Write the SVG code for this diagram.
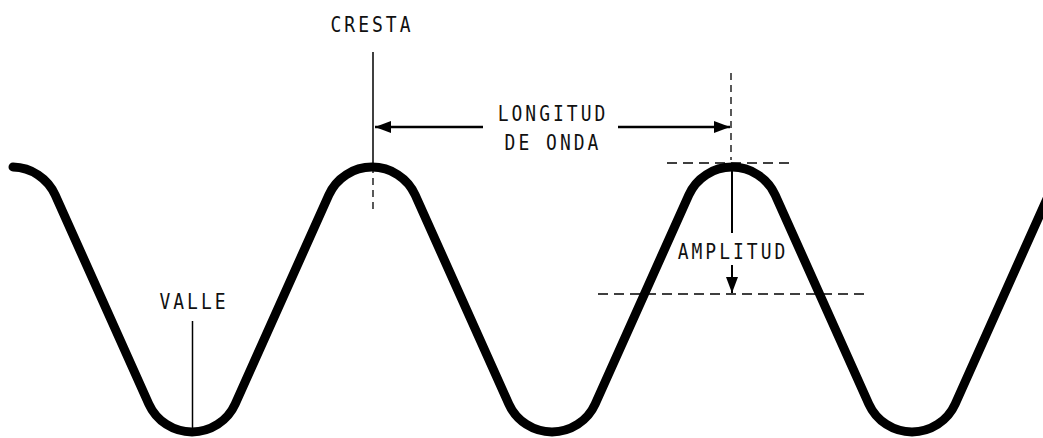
<svg xmlns="http://www.w3.org/2000/svg" width="1043" height="438" viewBox="0 0 1043 438">
<style>
.wave{fill:none;stroke:#000;stroke-width:9;stroke-linecap:round;stroke-linejoin:round}
.thin{fill:none;stroke:#000;stroke-width:1.5}
.dash{fill:none;stroke:#000;stroke-width:1.3;stroke-dasharray:10 6}
.arr{fill:none;stroke:#000;stroke-width:2.5}
.lbl{font-family:"DejaVu Sans Mono","Liberation Mono",monospace;font-size:18px;letter-spacing:3px;fill:#111;text-anchor:middle}
</style>
<defs>
<marker id="ah" viewBox="0 0 16 12" refX="16" refY="6" markerWidth="16" markerHeight="12" markerUnits="userSpaceOnUse" orient="auto">
<path d="M0,0 L16,6 L0,12 Z" fill="#000"/>
</marker>
</defs>
<rect width="1043" height="438" fill="#fff"/>
<g id="wave">
<path class="wave" d="M13,167 A47.4,47.4 0 0 1 55.2,195 L148.8,404 A47.4,47.4 0 0 0 235.2,404 L328.8,195 A47.4,47.4 0 0 1 415.2,195 L508.8,404 A47.4,47.4 0 0 0 595.2,404 L688.8,195 A47.4,47.4 0 0 1 775.2,195 L868.8,404 A47.4,47.4 0 0 0 955.2,404 L1050,192"/>
</g>
<g id="connectors">
<line class="thin" x1="373" y1="52" x2="373" y2="163"/>
<line class="dash" x1="373" y1="166" x2="373" y2="214" style="stroke-dasharray:7 5"/>
<line class="dash" x1="731" y1="73" x2="731" y2="160" style="stroke-dasharray:7 5"/>
<line class="dash" x1="667" y1="163" x2="793" y2="163"/>
<line class="dash" x1="598" y1="294" x2="866" y2="294"/>
<line class="arr" x1="483" y1="127" x2="375" y2="127" marker-end="url(#ah)"/>
<line class="arr" x1="618" y1="127" x2="730" y2="127" marker-end="url(#ah)"/>
<line class="thin" x1="732" y1="163" x2="732" y2="233" style="stroke-width:2"/>
<line class="thin" x1="732" y1="265" x2="732" y2="293" style="stroke-width:2" marker-end="url(#ah)"/>
<line class="thin" x1="192.5" y1="321" x2="192.5" y2="433"/>
</g>
<g id="cresta"><text class="lbl" transform="translate(372,32) scale(1,1.15)">CRESTA</text></g>
<g id="longitud"><text class="lbl" transform="translate(553,121) scale(1,1.15)">LONGITUD</text><text class="lbl" transform="translate(553,150) scale(1,1.15)">DE ONDA</text></g>
<g id="amplitud"><text class="lbl" transform="translate(733,259) scale(1,1.15)">AMPLITUD</text></g>
<g id="valle"><text class="lbl" transform="translate(194,309) scale(1,1.15)">VALLE</text></g>
</svg>
